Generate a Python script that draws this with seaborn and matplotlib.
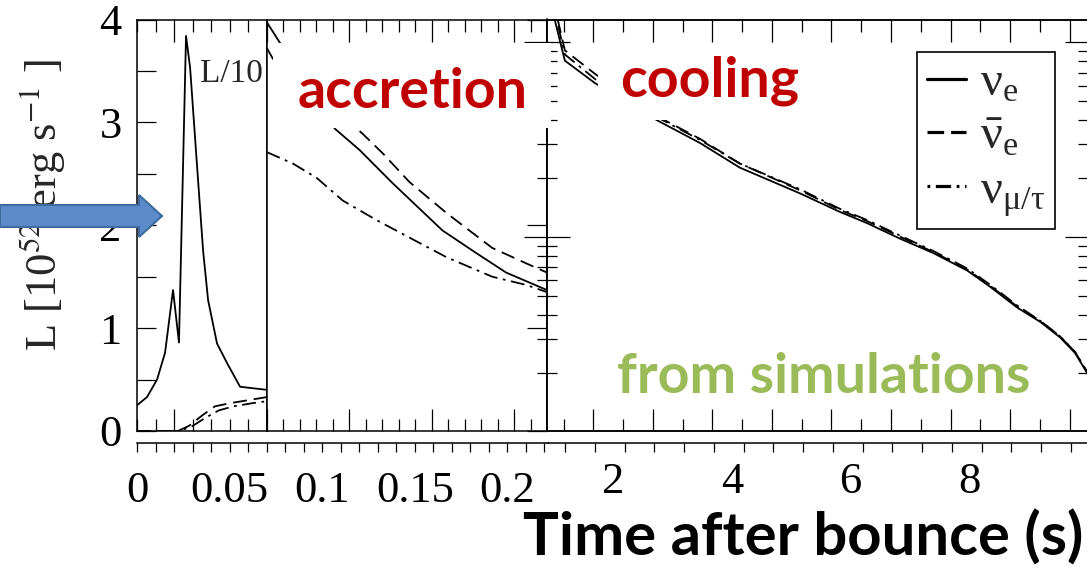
import numpy as np
import pandas as pd
import matplotlib
matplotlib.use("Agg")
import matplotlib.pyplot as plt
import seaborn as sns
from matplotlib.patches import Rectangle, FancyArrow
from matplotlib.lines import Line2D
from matplotlib.ticker import MultipleLocator, LogLocator, NullFormatter
from matplotlib.transforms import IdentityTransform

# ---------------------------------------------------------------------------
# Neutrino luminosities, L [1e52 erg/s]
# Panel 1 (neutronization burst, shown as L/10), panel 2 (accretion), panel 3 (cooling)
# ---------------------------------------------------------------------------
FLAVORS = ["nu_e", "nubar_e", "nu_x"]
FLAVOR_LABELS = [r"$\mathregular{\nu_e}$", r"$\mathregular{\bar{\nu}_e}$",
                 r"$\mathregular{\nu_{\mu/\tau}}$"]

t1_nue = [-0.02, -0.0146, -0.0092, -0.0049, -0.0006, 0.0026, 0.0064, 0.0086,
          0.0124, 0.0156, 0.0183, 0.0231, 0.0285, 0.0355, 0.05]
L1_nue = [0.25, 0.33, 0.50, 0.76, 1.37, 0.86, 3.84, 3.53,
          2.56, 1.75, 1.27, 0.85, 0.66, 0.43, 0.40]
t1_nuebar = [-0.02, 0.002, 0.008, 0.015, 0.022, 0.030, 0.040, 0.05]
L1_nuebar = [0.0, 0.0, 0.05, 0.15, 0.24, 0.27, 0.30, 0.33]
t1_nux = [-0.02, 0.003, 0.010, 0.017, 0.024, 0.032, 0.042, 0.05]
L1_nux = [0.0, 0.0, 0.05, 0.13, 0.20, 0.24, 0.27, 0.29]

t2_nue = [0.05, 0.058, 0.07, 0.0911, 0.1063, 0.1262, 0.1565, 0.177, 0.1952, 0.22]
L2_nue = [3.97, 3.77, 3.45, 2.94, 2.73, 2.41, 1.95, 1.73, 1.54, 1.37]
t2_nuebar = [0.05, 0.0535, 0.075, 0.108, 0.1202, 0.1365, 0.1589, 0.1867, 0.2073, 0.22]
L2_nuebar = [3.72, 3.62, 3.35, 2.89, 2.70, 2.42, 2.12, 1.78, 1.63, 1.54]
t2_nux = [0.05, 0.0657, 0.0802, 0.096, 0.1165, 0.1365, 0.1589, 0.1867, 0.2073, 0.22]
L2_nux = [2.71, 2.60, 2.46, 2.24, 2.05, 1.88, 1.69, 1.50, 1.42, 1.35]

t3 = [0.22, 0.52, 1.03, 1.5, 2.07, 2.79, 3.46, 4.47, 5.14, 5.6,
      6.15, 6.71, 7.28, 7.67, 8.12, 8.51, 8.84, 9.09, 9.31]
L3_nue = [4.30, 3.60, 3.38, 3.22, 3.02, 2.80, 2.56, 2.31, 2.13, 2.02,
          1.87, 1.73, 1.56, 1.40, 1.20, 1.06, 0.91, 0.76, 0.55]
L3_nuebar = [4.45, 3.70, 3.47, 3.28, 3.06, 2.84, 2.60, 2.34, 2.15, 2.04,
             1.89, 1.74, 1.57, 1.41, 1.21, 1.07, 0.92, 0.77, 0.56]
L3_nux = [4.40, 3.66, 3.42, 3.26, 3.05, 2.83, 2.60, 2.35, 2.16, 2.05,
          1.90, 1.75, 1.58, 1.42, 1.22, 1.07, 0.92, 0.77, 0.56]

early_tick_values = [0, 0.05, 0.1, 0.15, 0.2]
early_tick_labels = ["0", "0.05", "0.1", "0.15", "0.2"]
late_tick_values = [2, 4, 6, 8]
late_tick_labels = ["2", "4", "6", "8"]


def long_frame(series):
    parts = [pd.DataFrame({"t": t, "L": L, "flavor": f}) for f, (t, L) in series.items()]
    return pd.concat(parts, ignore_index=True)


df1 = long_frame({"nu_e": (t1_nue, L1_nue), "nubar_e": (t1_nuebar, L1_nuebar),
                  "nu_x": (t1_nux, L1_nux)})
df2 = long_frame({"nu_e": (t2_nue, L2_nue), "nubar_e": (t2_nuebar, L2_nuebar),
                  "nu_x": (t2_nux, L2_nux)})
df3 = long_frame({"nu_e": (t3, L3_nue), "nubar_e": (t3, L3_nuebar),
                  "nu_x": (t3, L3_nux)})

# ---------------------------------------------------------------------------
sns.set_style("ticks")
plt.rcParams.update({
    "font.family": ["Liberation Serif", "DejaVu Serif"],
    "mathtext.fontset": "stix",
    "lines.scale_dashes": False,
    "axes.linewidth": 1.1,
    "axes.edgecolor": "black",
    "xtick.color": "black",
    "ytick.color": "black",
    "xtick.major.width": 0.9,
    "xtick.minor.width": 0.9,
    "ytick.major.width": 0.9,
    "ytick.minor.width": 0.9,
})

W, H = 1087, 567
fig = plt.figure(figsize=(W / 100, H / 100), dpi=100)
fig.patch.set_facecolor("white")


def px_rect(x0, x1, y_top, y_bot):
    """Pixel box (origin top-left) -> figure-fraction rectangle."""
    return [x0 / W, 1 - y_bot / H, (x1 - x0) / W, (y_bot - y_top) / H]


def fx(x):
    return x / W


def fy(y):
    return 1 - y / H


ax1 = fig.add_axes(px_rect(137, 267, 19.5, 431))
ax2 = fig.add_axes(px_rect(267, 547, 19.5, 431))
ax3 = fig.add_axes(px_rect(547, 1088, 19.5, 431))

DASHES = {"nu_e": "", "nubar_e": (10, 5), "nu_x": (10, 4, 2, 4)}

for ax, df in [(ax1, df1), (ax2, df2), (ax3, df3)]:
    sns.lineplot(data=df, x="t", y="L", style="flavor", style_order=FLAVORS,
                 dashes=DASHES, color="black", lw=1.3, estimator=None,
                 sort=False, legend=False, ax=ax)
    ax.set_ylim(0, 4)
    ax.set_xlabel("")
    ax.set_ylabel("")

ax1.set_xlim(-0.02, 0.05)
ax2.set_xlim(0.05, 0.22)
ax3.set_xlim(0.22, 9.31)

for ax, major, minor in [(ax1, 0.05, 0.01), (ax2, 0.05, 0.01), (ax3, 1.0, 0.5)]:
    ax.xaxis.set_major_locator(MultipleLocator(major))
    ax.xaxis.set_minor_locator(MultipleLocator(minor))
    ax.tick_params(axis="x", which="both", direction="in", top=True, bottom=True,
                   labelbottom=False, labeltop=False)
    ax.tick_params(axis="x", which="major", length=15.8)
    ax.tick_params(axis="x", which="minor", length=8.6)

# log-scaled luminosity guide on the cooling panel
ax3b = ax3.twinx()
ax3b.set_yscale("log")
ax3b.set_ylim(0.101, 13.1)
ax3b.yaxis.set_major_locator(LogLocator(base=10))
ax3b.yaxis.set_minor_locator(LogLocator(base=10, subs=np.arange(2, 10)))
ax3b.yaxis.set_minor_formatter(NullFormatter())
ax3b.tick_params(axis="y", which="both", direction="inout", left=True, right=True,
                 labelleft=False, labelright=False)
ax3b.tick_params(axis="y", which="major", length=33)
ax3b.tick_params(axis="y", which="minor", length=14)

# linear luminosity axis
ax1.yaxis.set_major_locator(MultipleLocator(1))
ax1.yaxis.set_minor_locator(MultipleLocator(0.5))
ax1.tick_params(axis="y", which="both", direction="in", left=True, right=False,
                length=13.7)
ax1.tick_params(axis="y", which="major", labelsize=32, pad=11)

ax2.yaxis.set_major_locator(MultipleLocator(1))
ax2.yaxis.set_minor_locator(MultipleLocator(0.5))
ax2.tick_params(axis="y", which="major", direction="in", left=False, right=True,
                labelleft=False, length=14.4)
ax2.tick_params(axis="y", which="minor", left=False, right=False)

ax3.tick_params(axis="y", which="both", left=False, right=False,
                labelleft=False, labelright=False)

# time-axis strips carrying the tick labels
s1 = fig.add_axes(px_rect(137, 548, 442, 443))
s2 = fig.add_axes(px_rect(548, 1088, 442, 443))
for s in (s1, s2):
    s.patch.set_visible(False)
    for side in ("left", "right", "top"):
        s.spines[side].set_visible(False)
    s.set_yticks([])
    s.tick_params(axis="x", which="both", direction="out", bottom=True, top=False,
                  labelsize=32, pad=14, length=6.5)

s1.set_xticks(early_tick_values, early_tick_labels)
s1.xaxis.set_minor_locator(MultipleLocator(0.01))
s1.set_xlim(0, 0.222)

s2.set_xticks(late_tick_values, late_tick_labels)
s2.xaxis.set_minor_locator(MultipleLocator(0.5, offset=0.2))
s2.tick_params(axis="x", which="major", length=0)
s2.set_xlim(0.91, 9.99)

# legend
style_ls = {"nu_e": "-", "nubar_e": (0, (12, 5)), "nu_x": (0, (2, 4, 11, 4))}
handles = [Line2D([], [], color="black", lw=2.3, linestyle=style_ls[f]) for f in FLAVORS]
leg = ax3b.legend(handles, FLAVOR_LABELS, loc="upper right",
                  bbox_to_anchor=(fx(1055), fy(52)), bbox_transform=fig.transFigure,
                  fontsize=35, frameon=True, fancybox=False, framealpha=1,
                  edgecolor="black", borderaxespad=0, borderpad=0.2,
                  handlelength=0.8, handletextpad=0.3, labelspacing=0.2)
leg.get_frame().set_linewidth(1.2)

# white label panels
for x0, x1, yt, yb in [(273, 551, 43, 128), (598, 812, 45, 120)]:
    fig.add_artist(Rectangle((fx(x0), fy(yb)), (x1 - x0) / W, (yb - yt) / H,
                             transform=fig.transFigure, facecolor="white",
                             edgecolor="none", zorder=2))

fig.text(fx(298), fy(108), "accretion", color="#C00000", fontsize=40,
         family="Lato", weight="bold", va="baseline", ha="left", zorder=3)
fig.text(fx(620), fy(97), "cooling", color="#C00000", fontsize=40,
         family="Lato", weight="bold", va="baseline", ha="left", zorder=3)
fig.text(fx(617), fy(393), "from simulations", color="#9BBB59", fontsize=40,
         family="Lato", weight="bold", va="baseline", ha="left", zorder=3)
fig.text(fx(1083), fy(556), "Time after bounce (s)", color="black", fontsize=43,
         family="Lato", weight="bold", va="baseline", ha="right", zorder=3)

fig.text(fx(200), fy(82), "L/10", fontsize=24, va="baseline", ha="left", zorder=3)
fig.text(fx(43), fy(205), r"L [10$^{52}$ erg s$^{-1}$ ]", fontsize=32,
         rotation=90, va="center", ha="center", zorder=3)

# arrow pointing at the burst
fig.add_artist(FancyArrow(0, H - 216, 162, 0, width=22, head_width=42,
                          head_length=23, length_includes_head=True,
                          transform=IdentityTransform(), facecolor="#5B8BC9",
                          edgecolor="#3E6C9E", linewidth=1.5, zorder=4))

fig.savefig("out.png", dpi=100, facecolor="white")
